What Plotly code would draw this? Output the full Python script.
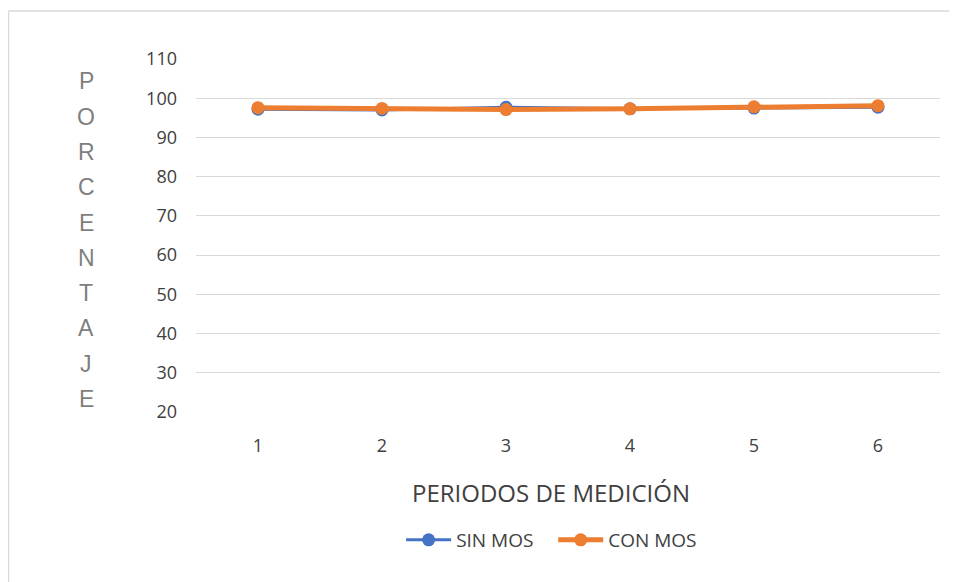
import plotly.graph_objects as go

periods = ["1", "2", "3", "4", "5", "6"]
sin_mos = [97.2, 97.0, 97.7, 97.3, 97.5, 97.7]
con_mos = [97.6, 97.4, 97.1, 97.3, 97.8, 98.1]
y_ticks = [20, 30, 40, 50, 60, 70, 80, 90, 100, 110]
y_label = "PORCENTAJE"
x_label = "PERIODOS DE MEDICIÓN"

W, H = 949, 574
L, R, T, B = 188, 17, 51, 170
PW, PH = W - L - R, H - T - B

fig = go.Figure()
fig.add_trace(go.Scatter(x=periods, y=sin_mos, name="SIN MOS\u00a0\u00a0\u00a0", mode="lines+markers",
                         line=dict(color="#4472C4", width=3),
                         marker=dict(size=13, color="#4472C4")))
fig.add_trace(go.Scatter(x=periods, y=con_mos, name="CON MOS", mode="lines+markers",
                         line=dict(color="#ED7D31", width=5),
                         marker=dict(size=13, color="#ED7D31")))

fig.update_layout(
    width=W, height=H,
    margin=dict(l=L, r=R, t=T, b=B),
    paper_bgcolor="white", plot_bgcolor="white",
    font=dict(family="Open Sans, Liberation Sans", color="#404040", size=18),
    showlegend=True,
    legend=dict(orientation="h", x=0.478, xanchor="center", y=(PH - (532 - T)) / PH,
                yanchor="middle", font=dict(size=19, color="#404040"), itemwidth=45),
    xaxis=dict(type="category", range=[-0.5, 5.5], showgrid=False, zeroline=False,
               showline=False, ticks="", tickfont=dict(size=18, color="#404040"),
               ticklabelstandoff=21),
    yaxis=dict(range=[20, 110], tickvals=y_ticks, showgrid=True, gridcolor="#D9D9D9",
               gridwidth=1, zeroline=False, showline=False, ticks="",
               tickfont=dict(size=18, color="#404040"), ticklabelstandoff=18),
    shapes=[
        dict(type="line", xref="paper", yref="paper",
             x0=-(L - 0.5) / PW, x1=(W - L) / PW, y0=1 + (T - 3) / PH, y1=1 + (T - 3) / PH,
             line=dict(color="#D9D9D9", width=1.5)),
        dict(type="line", xref="paper", yref="paper",
             x0=-(L - 0.5) / PW, x1=-(L - 0.5) / PW, y0=-B / PH, y1=1 + (T - 3) / PH,
             line=dict(color="#D9D9D9", width=1.5)),
    ],
)

fig.add_annotation(text=x_label, xref="paper", yref="paper",
                   x=(543 - L) / PW, y=(T + PH - 484) / PH,
                   xanchor="center", yanchor="middle", showarrow=False,
                   font=dict(size=24, color="#404040", family="Open Sans, Liberation Sans"))

n = len(y_label)
top_c, bot_c = 73.5, 391.0
for i, ch in enumerate(y_label):
    fy = top_c + (bot_c - top_c) * i / (n - 1)
    fig.add_annotation(text=ch, xref="paper", yref="paper",
                       x=(78 - L) / PW, y=(T + PH - fy) / PH,
                       xanchor="center", yanchor="middle", showarrow=False,
                       font=dict(size=23, color="#7F7F7F", family="Liberation Sans, Arial"))

fig.write_html("out.html")
